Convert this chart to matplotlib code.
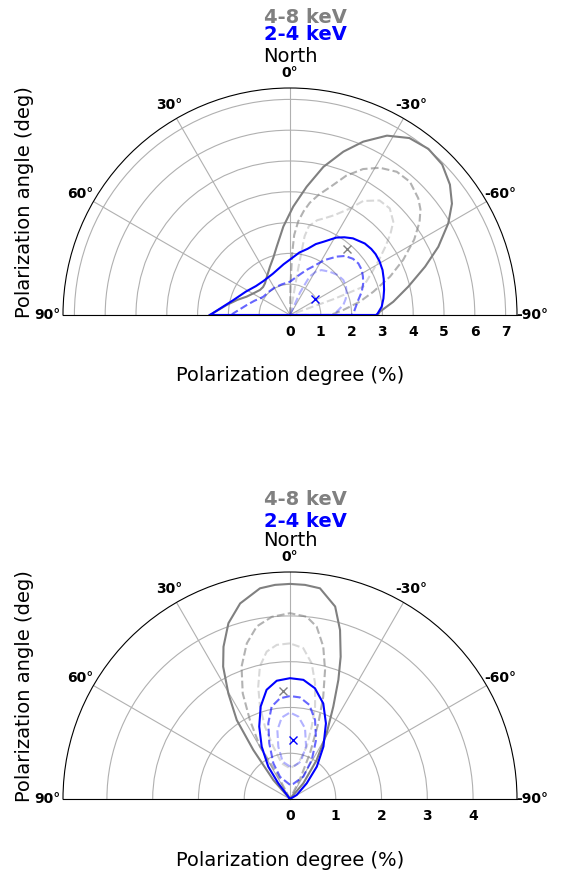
import numpy as np
import matplotlib
matplotlib.use("Agg")
import matplotlib.pyplot as plt

# ---- top panel contours (PA in deg, PD in %) ----
# 2-4 keV
t_soft99_pa = [90, 75.2, 62, 49.6, 38, 22.6, 7.2, 0, -8.5, -14.8, -20, -24.7, -30.9, -35, -39.4, -46.3, -50.9,
               -54.6, -59, -64.1, -69, -75.1, -80, -84.8, -88.9, -90, -90, 90, 90]
t_soft99_pd = [2.60, 1.90, 1.62, 1.45, 1.40, 1.45, 1.66, 1.80, 2.05, 2.22, 2.45, 2.62, 2.93, 3.08, 3.22, 3.36,
               3.40, 3.41, 3.39, 3.34, 3.26, 3.16, 3.08, 2.99, 2.85, 2.80, 0, 0, 2.60]
t_soft90_pa = [90, 88.3, 77, 68, 60.9, 55.6, 42, 30, 15, 0, -8, -15.7, -20.5, -25.8, -32, -38.7, -43, -48.2,
               -53, -57.9, -62, -66.6, -72, -77.6, -83, -88.5, -90, -90]
t_soft90_pd = [1.90, 1.84, 1.44, 1.24, 1.11, 1.05, 1.02, 1.02, 1.03, 1.08, 1.22, 1.41, 1.57, 1.76, 2.10, 2.43,
               2.62, 2.74, 2.78, 2.75, 2.68, 2.59, 2.45, 2.27, 2.15, 2.06, 2.0, 0]
t_soft68_pa = [-20, -24, -27, -31, -35, -42.7, -50, -56.7, -63, -69, -74, -79.4, -86, -90, -90]
t_soft68_pd = [0, 0.8, 1.4, 1.65, 1.78, 1.91, 2.02, 2.07, 2.04, 1.97, 1.88, 1.76, 1.52, 1.45, 0]
# 4-8 keV
t_hard99_pa = [90, 81, 74, 67.1, 58, 50.2, 44, 38.3, 30, 22.5, 16, 11, 4.3, -1.7, -7.4, -12.7, -18.1, -22.9,
               -28.4, -34, -39.8, -45.3, -50.8, -55.5, -59.9, -65.3, -70.3, -76.5, -82.7, -87.9, -90, -90, 90, 90]
t_hard99_pd = [2.60, 2.08, 1.78, 1.53, 1.36, 1.27, 1.26, 1.31, 1.48, 1.70, 1.95, 2.26, 2.88, 3.52, 4.20, 4.93,
               5.58, 6.11, 6.62, 6.93, 7.02, 6.95, 6.70, 6.38, 5.94, 5.30, 4.66, 3.95, 3.38, 2.92, 2.85, 0, 0, 2.60]
t_hard90_pa = [0, -1, -2, -3, -5, -7.5, -10, -13.5, -17.5, -22, -26.6, -31.4, -36.7, -42, -47.7, -51, -54.3,
               -58.7, -64, -69, -74.4, -79.2, -84.6, -88, -90, -90]
t_hard90_pd = [0, 1.0, 2.0, 2.6, 3.05, 3.40, 3.70, 4.02, 4.36, 4.88, 5.30, 5.60, 5.80, 5.82, 5.63, 5.45, 5.18,
               4.72, 4.09, 3.48, 2.81, 2.31, 1.74, 1.45, 1.30, 0]
t_hard68_pa = [-10, -10, -10.5, -12, -16, -20, -24, -29.4, -32.7, -38, -43.1, -47.9, -51, -54.3, -58, -61.6,
               -65, -68.9, -70, -68]
t_hard68_pd = [0, 1.5, 2.6, 2.95, 3.20, 3.35, 3.55, 3.97, 4.40, 4.72, 4.74, 4.52, 4.20, 3.82, 3.42, 3.07,
               2.80, 2.55, 1.5, 0]
t_best_pa = [-57.9, -40.8]   # soft, hard
t_best_pd = [0.96, 2.82]

# ---- bottom panel contours ----
b_soft99_pa = [40, 36.7, 33.9, 28.4, 23, 17.6, 12.1, 6.4, 0, -6.4, -12.7, -19.2, -25.4, -32.5, -39.6, -46.8,
               -59, -65]
b_soft99_pd = [0, 0.43, 0.85, 1.30, 1.72, 2.12, 2.44, 2.60, 2.64, 2.62, 2.48, 2.21, 1.83, 1.36, 0.92, 0.50,
               0.17, 0]
b_soft90_pa = [0, 24.2, 25, 20.4, 16, 11.2, 5.7, 0, -5.6, -11.6, -17.6, -23.8, -29.1, -30.8, -12.4, 0]
b_soft90_pd = [0.31, 0.53, 0.86, 1.30, 1.72, 2.06, 2.21, 2.25, 2.23, 2.10, 1.81, 1.41, 0.98, 0.57, 0.34, 0.31]
b_soft68_pa = [0, 11.1, 12.6, 10.4, 5.8, 0, -5.8, -12, -17, -16, -5.8, 0]
b_soft68_pd = [0.71, 0.83, 1.17, 1.53, 1.79, 1.89, 1.81, 1.58, 1.20, 0.85, 0.71, 0.71]
b_hard99_pa = [45.5, 41.3, 36.8, 34, 30.3, 26.8, 23.6, 19.3, 14.3, 8.1, 4, 0, -4, -8.1, -13.2, -16.5, -19.6,
               -22.1, -25.1, -29.2, -34.4, -40.3, -48]
b_hard99_pd = [0, 0.55, 1.34, 2.08, 2.67, 3.24, 3.63, 4.07, 4.41, 4.65, 4.69, 4.70, 4.69, 4.65, 4.32, 3.85,
               3.30, 2.81, 2.23, 1.64, 1.03, 0.45, 0]
b_hard90_pa = [29, 27.4, 29.8, 26.9, 24.1, 20.1, 15.5, 10.9, 5.7, 0, -5.2, -8.8, -12.3, -15.2, -18, -20.5,
               -23.6, -26.6, -28]
b_hard90_pd = [0, 0.63, 1.32, 1.94, 2.53, 3.08, 3.53, 3.84, 4.00, 4.06, 4.00, 3.81, 3.41, 2.92, 2.35, 1.77,
               1.09, 0.49, 0]
b_hard68_pa = [0, 4.9, 9, 12.8, 15.8, 18, 19.1, 17.7, 13.1, 0, -13.1, -17.7, -16.7, -15.2, -12.2, -9.1, -5, 0]
b_hard68_pd = [3.40, 3.38, 3.26, 2.97, 2.55, 2.12, 1.67, 1.20, 0.80, 0.67, 0.80, 1.20, 1.65, 2.09, 2.59, 3.0,
               3.31, 3.40]
b_best_pa = [-2.6, 3.5]
b_best_pd = [1.29, 2.37]

theta_ticks = [90, 60, 30, 0, -30, -60, -90]
theta_labels = ["90°", "60°", "30°", "0°", "-30°", "-60°", "-90°"]


def draw(ax, rmax, rticks, soft, hard, best_pa, best_pd):
    ax.set_theta_zero_location("N")
    ax.set_thetamin(-90)
    ax.set_thetamax(90)
    ax.set_rlim(0, rmax)
    ax.set_yticks(rticks, [str(r) for r in rticks], fontsize=10)
    ax.set_thetagrids(theta_ticks, theta_labels, fontweight="bold", fontsize=10)
    ax.tick_params(axis="x", pad=0.5)
    ax.grid(color="#b0b0b0", lw=0.8)

    styles = [("-", 1.0), ("--", 0.6), ("--", 0.3)]
    for (pa, pd), (ls, a) in zip(hard, styles):
        ax.plot(np.radians(pa), pd, ls=ls, color="gray", alpha=a, lw=1.5)
    for (pa, pd), (ls, a) in zip(soft, styles):
        ax.plot(np.radians(pa), pd, ls=ls, color="blue", alpha=a, lw=1.5)
    ax.plot(np.radians(best_pa[0]), best_pd[0], "x", color="blue", ms=6)
    ax.plot(np.radians(best_pa[1]), best_pd[1], "x", color="gray", ms=6)


fig = plt.figure(figsize=(5.64, 8.74), dpi=100)

# square boxes; the half disc sits in the middle of each
ax1 = fig.add_axes([63 / 564, 1 - 428.5 / 874, 454 / 564, 454 / 874], projection="polar")
draw(ax1, 7.37, range(0, 8),
     [(t_soft99_pa, t_soft99_pd), (t_soft90_pa, t_soft90_pd), (t_soft68_pa, t_soft68_pd)],
     [(t_hard99_pa, t_hard99_pd), (t_hard90_pa, t_hard90_pd), (t_hard68_pa, t_hard68_pd)],
     t_best_pa, t_best_pd)

ax2 = fig.add_axes([63 / 564, 1 - 912.5 / 874, 454 / 564, 454 / 874], projection="polar")
draw(ax2, 4.96, range(0, 5),
     [(b_soft99_pa, b_soft99_pd), (b_soft90_pa, b_soft90_pd), (b_soft68_pa, b_soft68_pd)],
     [(b_hard99_pa, b_hard99_pd), (b_hard90_pa, b_hard90_pd), (b_hard68_pa, b_hard68_pd)],
     b_best_pa, b_best_pd)

title_y = [(23, 40, 56), (505, 527, 540)]
for (y48, y24, yn), y0 in zip(title_y, [0, 484]):
    fig.text(305 / 564, 1 - y48 / 874, "4-8 keV", color="gray", fontsize=14, fontweight="bold",
             ha="center", va="baseline")
    fig.text(305 / 564, 1 - y24 / 874, "2-4 keV", color="blue", fontsize=14,
             fontweight="bold", ha="center", va="baseline")
    fig.text(290 / 564, 1 - yn / 874, "North", color="black", fontsize=14, ha="center", va="center")
    fig.text(25 / 564, 1 - (202 + y0) / 874, "Polarization angle (deg)", fontsize=14, rotation=90,
             ha="center", va="center")
    fig.text(290 / 564, 1 - (376 + y0) / 874, "Polarization degree (%)", fontsize=14, ha="center", va="center")

# radial tick labels are rebuilt at draw time, so make them bold afterwards
fig.canvas.draw()
for ax in [ax1, ax2]:
    for tk in ax.yaxis.get_major_ticks():
        tk.label1.set_fontweight("bold")
        tk.label2.set_fontweight("bold")

fig.savefig("out.png", dpi=100)
